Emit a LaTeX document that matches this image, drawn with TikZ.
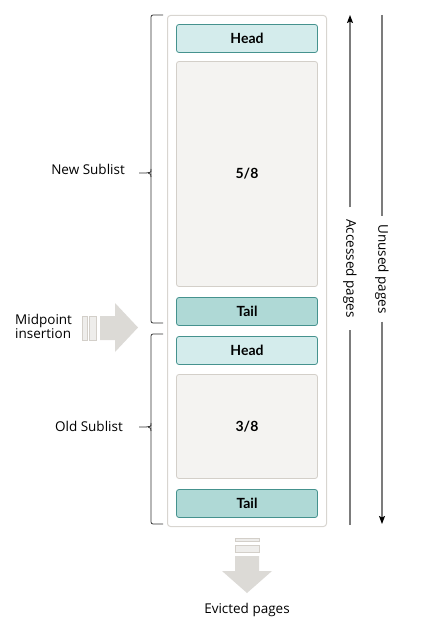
\documentclass[tikz,border=0pt]{standalone}
\usepackage{fontspec}
\setmainfont{Open Sans}
\newfontfamily\boxfont{Lato}
\usetikzlibrary{arrows.meta}

\definecolor{headfill}{HTML}{D4ECEC}
\definecolor{tailfill}{HTML}{AFD9D6}
\definecolor{boxedge}{HTML}{45928E}
\definecolor{pagefill}{HTML}{F4F3F1}
\definecolor{pageedge}{HTML}{D3CFC9}
\definecolor{pooledge}{HTML}{D8D5D0}
\definecolor{arrowfill}{HTML}{DCDAD6}
\definecolor{barfill}{HTML}{EEEDEB}
\definecolor{scalegray}{HTML}{7C7C7C}

\tikzset{
	listbox/.style={draw=boxedge,line width=0.8pt,rounded corners=2.5pt,minimum width=141pt,inner sep=0pt,font=\boxfont\bfseries\fontsize{14}{16}\selectfont},
	headbox/.style={listbox,fill=headfill,minimum height=28pt},
	tailbox/.style={listbox,fill=tailfill,minimum height=28pt},
	pagebox/.style={listbox,draw=pageedge,fill=pagefill},
	poolbox/.style={draw=pooledge,line width=1pt,rounded corners=3pt,fill=white,minimum width=159pt,minimum height=511pt,inner sep=0pt},
	sidetext/.style={font=\fontsize{13.5}{14}\selectfont,inner sep=0pt},
	bracket/.style={draw=black!80,line width=0.8pt,rounded corners=2pt},
	scaleline/.style={draw=scalegray,line width=1.2pt},
	bar/.style={fill=barfill,draw=pageedge,line width=0.5pt}
}

\begin{document}
\begin{tikzpicture}[x=1pt,y=-1pt]
	\useasboundingbox (0,0) rectangle (429,631);

	% buffer pool list
	\node[poolbox] (pool) at (247,271) {};
	\node[headbox] (newhead) at (247,38.5) {Head};
	\node[pagebox,minimum height=225pt] (newpages) at (247,174) {5/8};
	\node[tailbox] (newtail) at (247,311.5) {Tail};
	\node[headbox] (oldhead) at (247,350.5) {Head};
	\node[pagebox,minimum height=104pt] (oldpages) at (247,426.5) {3/8};
	\node[tailbox] (oldtail) at (247,503.5) {Tail};

	% sublist brackets
	\foreach \top/\mid/\bot in {15/173/323,334/427/524} {
		\draw[bracket] (163,\top) -- (151,\top) -- (151,\bot) -- (163,\bot);
		\draw[bracket] (151,\mid-4) .. controls (151,\mid-1) .. (148,\mid) -- (139,\mid);
		\draw[bracket] (151,\mid+4) .. controls (151,\mid+1) .. (148,\mid);
	}
	\node[sidetext,anchor=base east] (newlbl) at (125,174.5) {New Sublist};
	\node[sidetext,anchor=base east] (oldlbl) at (123,431.5) {Old Sublist};

	% midpoint insertion
	\node[sidetext,anchor=west,align=left] (midlbl) at (15,326) {Midpoint\\insertion};
	\draw[bar] (82,316) rectangle (87,340);
	\draw[bar] (89,316) rectangle (96,340);
	\fill[arrowfill] (100,316) -- (115,316) -- (115,303) -- (138,327.5) -- (115,352) -- (115,340) -- (100,340) -- cycle;

	% eviction
	\draw[bar] (235,538) rectangle (259,541);
	\draw[bar] (235,545) rectangle (259,552);
	\fill[arrowfill] (235,556) -- (259,556) -- (259,571) -- (272,571) -- (247,593) -- (222,571) -- (235,571) -- cycle;
	\node[sidetext,anchor=base] (evicted) at (247,613) {Evicted pages};

	% page scales
	\node[sidetext,rotate=-90,outer xsep=12pt] (accessed) at (350,268.5) {Accessed pages};
	\node[sidetext,rotate=-90,outer xsep=8pt] (unused) at (382,269) {Unused pages};
	\coordinate (acctop) at (350,15);
	\coordinate (accbot) at (350,525);
	\coordinate (unustop) at (382,15);
	\coordinate (unusbot) at (382,524);
	\draw[scaleline] (accbot) -- (accessed);
	\draw[scaleline,-{Stealth[color=black,length=8pt,width=6pt,inset=1.5pt]}] (accessed) -- (acctop);
	\draw[scaleline] (unustop) -- (unused);
	\draw[scaleline,-{Stealth[color=black,length=8pt,width=6pt,inset=1.5pt]}] (unused) -- (unusbot);
\end{tikzpicture}
\end{document}
